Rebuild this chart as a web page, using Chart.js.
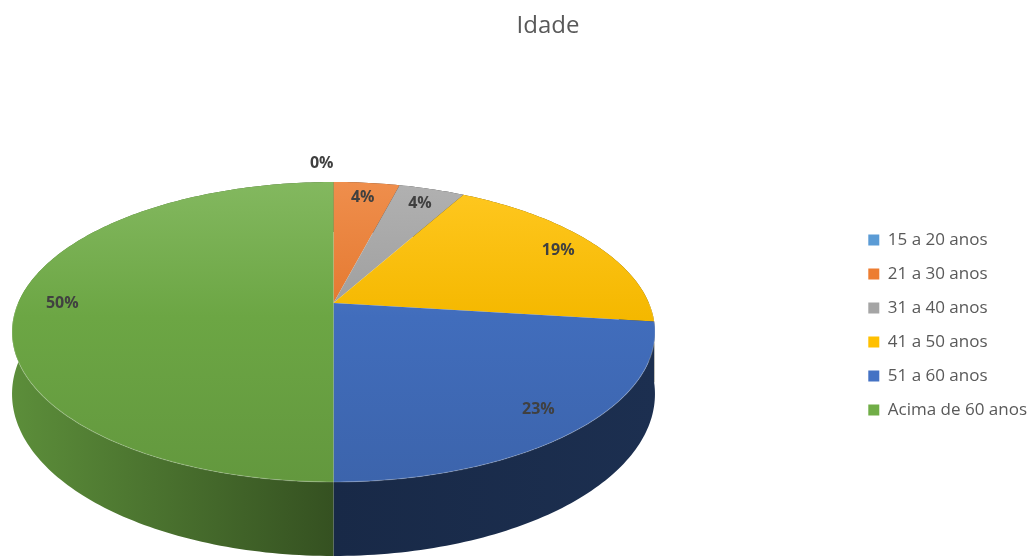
<!DOCTYPE html>
<html>
<head>
<meta charset="utf-8">
<title>Idade</title>
<script src="https://cdn.jsdelivr.net/npm/chart.js@4.4.1/dist/chart.umd.min.js"></script>
<style>
  html, body { margin: 0; padding: 0; background: #ffffff; }
  #wrap { width: 1029px; height: 556px; }
</style>
</head>
<body>
<div id="wrap"><canvas id="chart" width="1029" height="556"></canvas></div>
<script>
// Age groups and their share of respondents (percent)
const categories = ['15 a 20 anos', '21 a 30 anos', '31 a 40 anos', '41 a 50 anos', '51 a 60 anos', 'Acima de 60 anos'];
const shares = [0, 4, 4, 19, 23, 50];
const chartTitle = 'Idade';

const palette = ['#5B9BD5', '#ED7D31', '#A5A5A5', '#FFC000', '#4472C4', '#70AD47'];

// Tilted disc: maps an angle (from 12 o'clock, clockwise) and radius fraction to the screen,
// with a mild perspective so the far edge looks smaller than the near edge.
const disc = { cx: 333.5, cy: 303, sx: 315.4, sy: 144.4, k: -0.1933, depth: 59.7, top: 182, bottom: 482 };

function project(phi, r, drop) {
  const u = r * Math.sin(phi);
  const v = -r * Math.cos(phi);
  const w = 1 + disc.k * v;
  return [disc.cx + disc.sx * u / w, disc.cy + disc.sy * v / w + (drop || 0) / w];
}

function rgbOf(hex) {
  const n = parseInt(hex.slice(1), 16);
  return [n >> 16, (n >> 8) & 255, n & 255];
}
function mixWhite(hex, a) {
  const c = rgbOf(hex).map(x => Math.round(x + (255 - x) * a));
  return `rgb(${c[0]},${c[1]},${c[2]})`;
}
function scale(hex, f) {
  const c = rgbOf(hex).map(x => Math.round(x * f));
  return `rgb(${c[0]},${c[1]},${c[2]})`;
}

const pie3d = {
  id: 'pie3d',
  beforeDatasetsDraw(chart) {
    const ctx = chart.ctx;
    const arcs = chart.getDatasetMeta(0).data;
    const colors = chart.data.datasets[0].backgroundColor;
    const values = chart.data.datasets[0].data;
    const total = values.reduce((a, b) => a + b, 0);
    const stepsFor = span => Math.max(2, Math.ceil(span / (Math.PI / 180)));

    ctx.save();

    // outer walls of every slice
    arcs.forEach((arc, i) => {
      const a0 = arc.startAngle + Math.PI / 2;
      const a1 = arc.endAngle + Math.PI / 2;
      if (a1 - a0 < 1e-6) return;
      const n = stepsFor(a1 - a0);
      ctx.beginPath();
      for (let j = 0; j <= n; j++) {
        const p = project(a0 + (a1 - a0) * j / n, 1, 0);
        if (j === 0) ctx.moveTo(p[0], p[1]); else ctx.lineTo(p[0], p[1]);
      }
      for (let j = n; j >= 0; j--) {
        const p = project(a0 + (a1 - a0) * j / n, 1, disc.depth);
        ctx.lineTo(p[0], p[1]);
      }
      ctx.closePath();
      const left = disc.cx - disc.sx * 1.02, right = disc.cx + disc.sx * 1.02;
      const g = ctx.createLinearGradient(left, 0, right, 0);
      g.addColorStop(0, scale(colors[i], 0.82));
      g.addColorStop(0.499, scale(colors[i], 0.47));
      g.addColorStop(0.501, scale(colors[i], 0.36));
      g.addColorStop(1, scale(colors[i], 0.41));
      ctx.fillStyle = g;
      ctx.fill();
    });

    // top faces
    arcs.forEach((arc, i) => {
      const a0 = arc.startAngle + Math.PI / 2;
      const a1 = arc.endAngle + Math.PI / 2;
      if (a1 - a0 < 1e-6) return;
      const n = stepsFor(a1 - a0);
      ctx.beginPath();
      ctx.moveTo(disc.cx, disc.cy);
      for (let j = 0; j <= n; j++) {
        const p = project(a0 + (a1 - a0) * j / n, 1, 0);
        ctx.lineTo(p[0], p[1]);
      }
      ctx.closePath();
      const g = ctx.createLinearGradient(0, disc.top, 0, disc.bottom);
      g.addColorStop(0, mixWhite(colors[i], 0.13));
      g.addColorStop(0.45, scale(colors[i], 0.96));
      g.addColorStop(1, scale(colors[i], 0.88));
      ctx.fillStyle = g;
      ctx.fill();
    });

    // faint highlight along the front rim
    ctx.beginPath();
    const n = 180;
    for (let j = 0; j <= n; j++) {
      const phi = Math.PI / 2 + Math.PI * j / n;
      const p = project(phi, 1, 0);
      if (j === 0) ctx.moveTo(p[0], p[1]); else ctx.lineTo(p[0], p[1]);
    }
    ctx.strokeStyle = 'rgba(255,255,255,0.18)';
    ctx.lineWidth = 1.2;
    ctx.stroke();

    // percentage labels
    ctx.font = 'bold 16px "Open Sans", sans-serif';
    ctx.fillStyle = '#404040';
    ctx.textBaseline = 'middle';
    arcs.forEach((arc, i) => {
      const mid = (arc.startAngle + arc.endAngle) / 2 + Math.PI / 2;
      const inside = values[i] > 0;
      const p = project(mid, inside ? 0.86 : 1.19, 0);
      ctx.textAlign = inside ? 'center' : (Math.sin(mid) > 0.001 ? 'left' : 'right');
      ctx.fillText(Math.round(values[i] / total * 100) + '%', p[0], p[1]);
    });

    ctx.restore();
    return false;
  }
};

new Chart(document.getElementById('chart'), {
  type: 'pie',
  data: {
    labels: categories,
    datasets: [{
      data: shares,
      backgroundColor: palette,
      borderWidth: 0
    }]
  },
  options: {
    responsive: false,
    animation: false,
    events: [],
    layout: { padding: { left: 59, right: -8, top: 0, bottom: 0 } },
    plugins: {
      title: {
        display: true,
        text: chartTitle,
        color: '#595959',
        font: { family: '"Open Sans", sans-serif', size: 24, weight: 'normal' },
        padding: { top: 12, bottom: 53 }
      },
      legend: {
        position: 'right',
        fullSize: false,
        labels: {
          boxWidth: 11,
          boxHeight: 11,
          padding: 17,
          color: '#595959',
          font: { family: '"Open Sans", sans-serif', size: 17 }
        }
      },
      tooltip: { enabled: false }
    }
  },
  plugins: [pie3d]
});
</script>
</body>
</html>
